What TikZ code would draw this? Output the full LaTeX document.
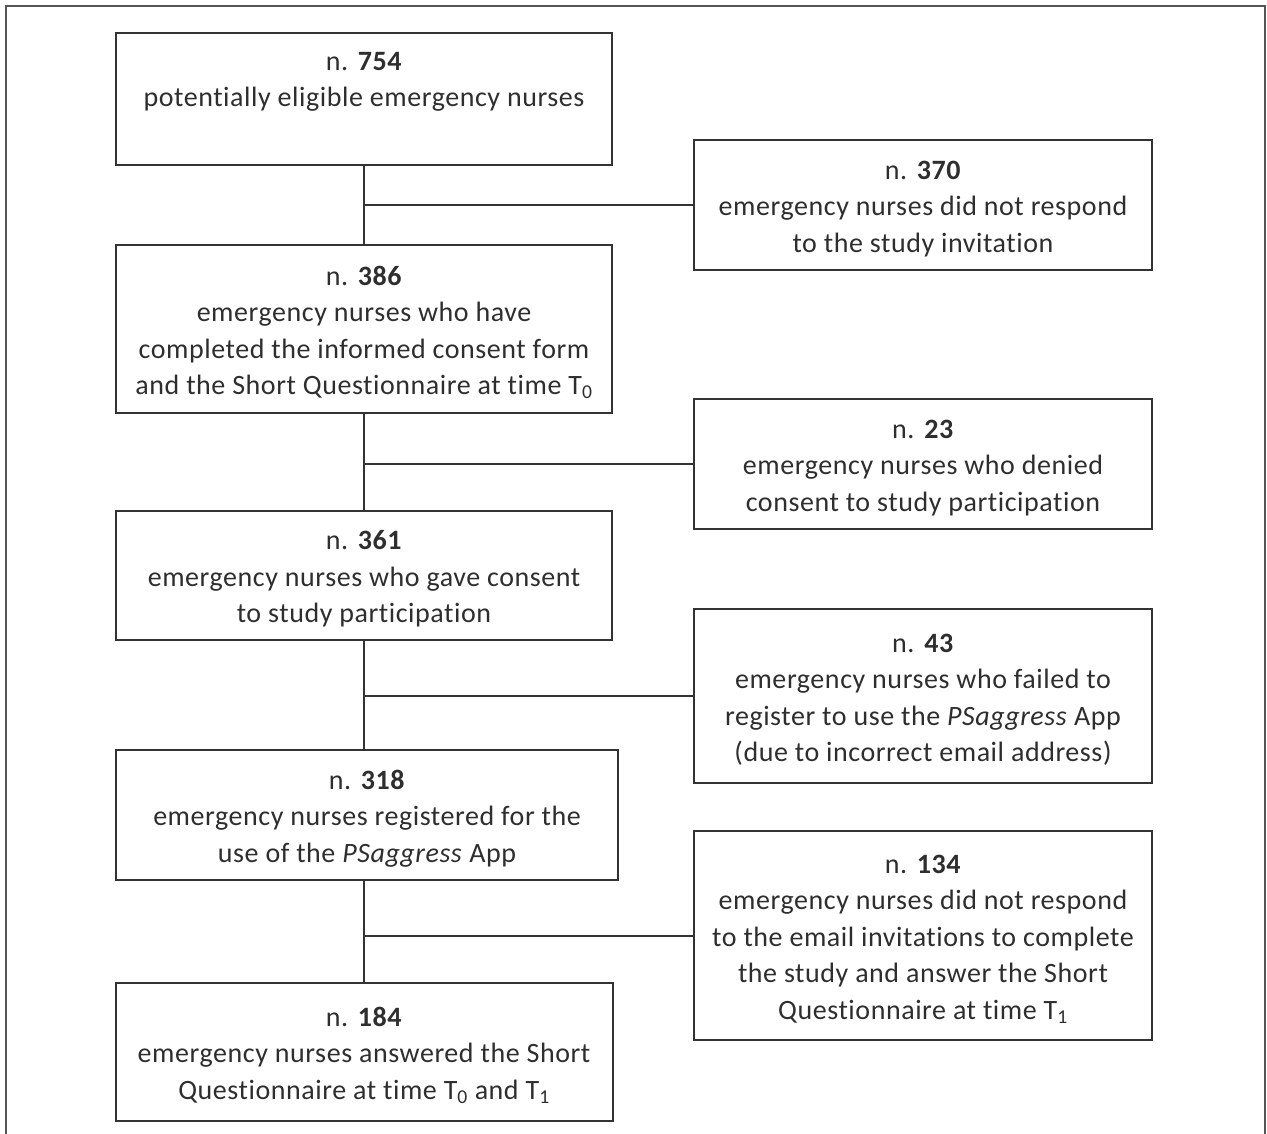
\documentclass[tikz,border=0pt]{standalone}
\usepackage{fontspec}
\setmainfont{Carlito}[Ligatures={NoCommon}, LetterSpace=2.0]
\definecolor{linec}{HTML}{333333}
\definecolor{txtc}{HTML}{2E2E2E}
\definecolor{framec}{HTML}{555555}
\newcommand{\topstrut}{\rule{0pt}{26pt}}
\begin{document}
\begin{tikzpicture}[x=1pt,y=-1pt,
  box/.style={draw=linec, line width=2pt, inner sep=0pt, align=center, text=txtc,
    font=\fontsize{28}{36.5}\selectfont},
  conn/.style={draw=linec, line width=2pt}]
\useasboundingbox (0,0) rectangle (1267,1134);
\draw[framec, line width=1.5pt] (6,1134) -- (6,6) -- (1265,6) -- (1265,1134);

\node[box, minimum width=496pt, minimum height=132pt] (b1) at (364,99)
  {\topstrut n. \textbf{754}\\ potentially eligible emergency nurses\\ \strut};
\node[box, minimum width=458pt, minimum height=130pt] (r1) at (923,205)
  {\topstrut n. \textbf{370}\\ emergency nurses did not respond\\ to the study invitation};
\node[box, minimum width=496pt, minimum height=168pt] (b2) at (364,329)
  {\topstrut n. \textbf{386}\\ emergency nurses who have\\ completed the informed consent form\\ and the Short Questionnaire at time T\textsubscript{0}};
\node[box, minimum width=458pt, minimum height=130pt] (r2) at (923,464)
  {\topstrut n. \textbf{23}\\ emergency nurses who denied\\ consent to study participation};
\node[box, minimum width=496pt, minimum height=129pt] (b3) at (364,575.5)
  {\topstrut n. \textbf{361}\\ emergency nurses who gave consent\\ to study participation};
\node[box, minimum width=458pt, minimum height=174pt] (r3) at (923,696)
  {\topstrut n. \textbf{43}\\ emergency nurses who failed to\\ register to use the \textit{PSaggress} App\\ (due to incorrect email address)};
\node[box, minimum width=502pt, minimum height=130pt] (b4) at (367,815)
  {\topstrut n. \textbf{318}\\ emergency nurses registered for the\\ use of the \textit{PSaggress} App};
\node[box, minimum width=458pt, minimum height=209pt] (r4) at (923,935.5)
  {\topstrut n. \textbf{134}\\ emergency nurses did not respond\\ to the email invitations to complete\\ the study and answer the Short\\ Questionnaire at time T\textsubscript{1}};
\node[box, minimum width=497pt, minimum height=138pt] (b5) at (364,1052)
  {\topstrut n. \textbf{184}\\ emergency nurses answered the Short\\ Questionnaire at time T\textsubscript{0} and T\textsubscript{1}};

\draw[conn] (b1.south) -- (b2.north);
\draw[conn] (b2.south) -- (b3.north);
\draw[conn] (b3.south) -- (b3.south |- b4.north);
\draw[conn] (b4.south -| b1.south) -- (b5.north);
\draw[conn] (r1.west) -- (r1.west -| b1.south);
\draw[conn] (r2.west) -- (r2.west -| b1.south);
\draw[conn] (r3.west) -- (r3.west -| b1.south);
\draw[conn] (r4.west) -- (r4.west -| b1.south);
\end{tikzpicture}
\end{document}
